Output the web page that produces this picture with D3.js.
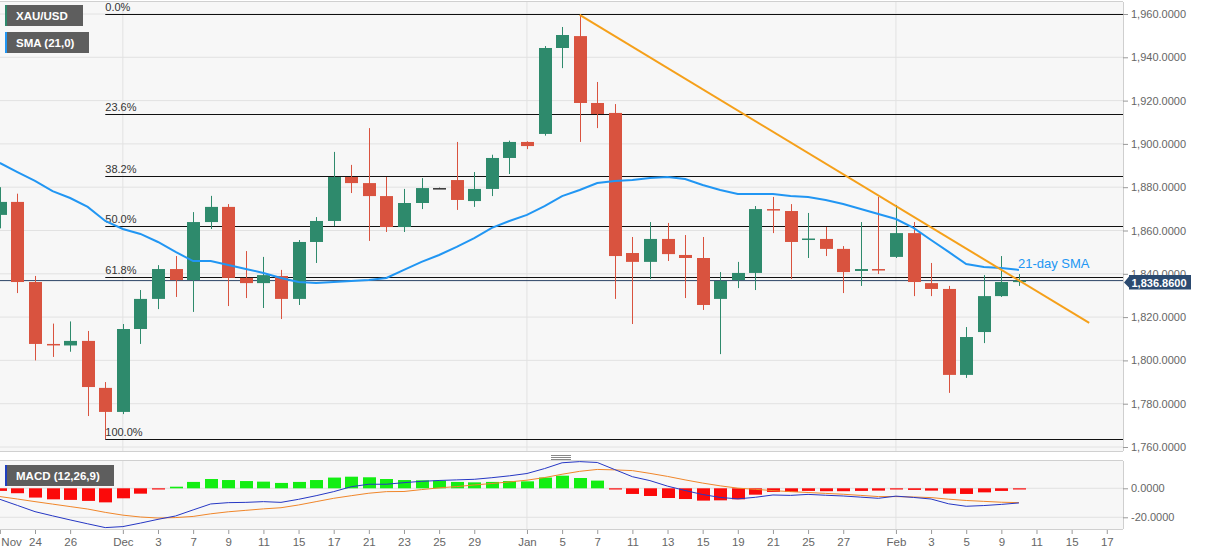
<!DOCTYPE html>
<html><head><meta charset="utf-8">
<script src="https://cdn.jsdelivr.net/npm/d3@7"></script>
<style>
body{margin:0;background:#fff;}
svg{display:block;font-family:"Liberation Sans",Arial,Helvetica,sans-serif;}
</style>
</head><body>
<svg id="chart" width="1207" height="555"></svg>
<script>
// ---------- DATA ----------
const days = ["11-20","11-23","11-24","11-25","11-26","11-27","11-30",
  "12-01","12-02","12-03","12-04","12-07","12-08","12-09","12-10","12-11",
  "12-14","12-15","12-16","12-17","12-18","12-21","12-22","12-23","12-24","12-25",
  "12-28","12-29","12-30","12-31","01-01","01-04","01-05","01-06","01-07","01-08",
  "01-11","01-12","01-13","01-14","01-15","01-18","01-19","01-20","01-21","01-22",
  "01-25","01-26","01-27","01-28","01-29","02-01","02-02","02-03","02-04","02-05",
  "02-08","02-09","02-10"];
const futureDays = ["02-11","02-12","02-15","02-16","02-17","02-18"];

const openP = [1867.2,1873.2,1836.2,1807.6,1806.9,1809.0,1787.3,
  1776.2,1814.5,1828.4,1842.2,1837.1,1863.9,1870.9,1838.1,1835.7,
  1839.0,1828.4,1854.7,1864.4,1884.7,1881.9,1875.9,1861.6,1872.7,1879.6,
  1883.3,1873.6,1879.2,1893.5,1900.9,1904.6,1944.3,1949.8,1918.9,1914.3,
  1849.6,1845.5,1856.1,1848.7,1847.3,1828.4,1837.1,1840.4,1869.9,1869.0,
  1855.8,1856.1,1851.5,1841.3,1842.2,1847.8,1858.8,1835.7,1833.0,1793.3,
  1813.1,1829.7,1836.2];
const highP = [1880.0,1877.0,1839.0,1817.0,1818.0,1813.6,1790.0,
  1816.8,1832.5,1844.0,1848.2,1868.5,1876.0,1872.2,1850.5,1847.8,
  1841.8,1855.6,1866.2,1896.3,1890.3,1907.3,1884.7,1879.2,1884.2,1879.8,
  1900.9,1887.0,1895.0,1901.5,1901.2,1945.2,1954.0,1959.8,1928.6,1918.4,
  1857.0,1863.9,1863.5,1857.9,1857.0,1840.8,1845.5,1871.3,1875.5,1872.2,
  1868.1,1861.6,1852.8,1863.9,1875.5,1871.8,1863.9,1845.0,1834.4,1815.4,
  1839.4,1848.2,1839.9];
const lowP = [1861.0,1831.1,1800.0,1801.6,1804.0,1774.3,1763.7,
  1775.2,1807.6,1823.7,1829.3,1822.4,1860.7,1825.1,1828.8,1824.2,
  1819.1,1825.6,1845.0,1862.1,1877.3,1855.2,1859.3,1859.3,1869.9,1879.4,
  1869.5,1870.9,1875.9,1886.1,1897.6,1903.8,1935.0,1900.9,1907.3,1828.4,
  1816.8,1837.6,1845.9,1828.8,1823.3,1802.9,1833.4,1832.5,1858.8,1837.6,
  1847.3,1848.2,1831.1,1834.4,1839.9,1847.3,1829.7,1829.7,1785.0,1791.9,
  1808.0,1829.3,1834.4];
const closeP = [1873.2,1836.2,1807.6,1807.2,1809.0,1787.7,1776.2,
  1814.5,1828.4,1842.2,1837.1,1863.9,1870.9,1838.1,1835.7,1839.4,
  1828.4,1854.7,1864.4,1884.7,1881.9,1875.9,1861.6,1872.7,1879.6,1879.6,
  1874.1,1879.2,1893.5,1900.9,1899.0,1944.3,1950.3,1918.9,1913.8,1848.2,
  1845.5,1856.1,1849.1,1847.3,1825.6,1836.7,1840.4,1869.9,1869.3,1854.7,
  1856.3,1851.5,1840.8,1842.2,1841.5,1858.8,1836.2,1833.0,1793.3,1810.8,
  1829.7,1836.2,1836.86];

const sma21 = [1891.2,1887.0,1882.9,1878.2,1875.0,1870.9,1864.4,
  1860.7,1858.4,1854.7,1850.1,1845.9,1845.9,1844.1,1842.2,1840.4,
  1838.1,1836.2,1835.7,1836.2,1836.7,1837.1,1838.1,1841.8,1845.5,1848.7,
  1852.4,1856.5,1861.2,1864.4,1867.2,1871.3,1875.9,1878.7,1881.9,1882.9,
  1883.3,1884.2,1884.7,1883.8,1881.0,1878.7,1876.9,1876.9,1876.9,1875.9,
  1875.5,1874.1,1872.2,1869.9,1867.6,1865.3,1861.2,1855.6,1850.1,1844.5,
  1843.1,1842.7,1841.8];

const macdLine = [-7.6,-11.8,-16.1,-19.0,-21.8,-24.5,-27.1,
  -26.4,-24.0,-21.4,-19.1,-14.9,-10.8,-9.9,-9.7,-9.2,
  -9.7,-7.6,-5.1,-2.3,1.1,2.8,2.8,3.9,4.8,5.4,
  5.8,6.2,7.3,8.6,10.2,13.6,17.6,18.4,17.8,12.9,
  8.0,5.3,1.5,-1.5,-4.3,-6.3,-7.3,-6.2,-4.6,-4.9,
  -4.2,-4.8,-5.3,-6.1,-6.9,-5.4,-6.3,-7.4,-10.7,-12.4,
  -11.9,-11.1,-10.1];
const signalLine = [-5.7,-7.4,-9.2,-10.9,-12.6,-14.3,-16.6,
  -18.5,-19.8,-20.5,-20.2,-19.4,-17.6,-16.2,-15.2,-14.2,
  -13.4,-11.5,-9.2,-6.9,-5.1,-3.4,-2.3,-2.2,-0.9,0.3,
  1.2,2.3,3.3,4.4,5.6,7.4,9.7,11.7,13.0,12.7,
  12.2,10.3,8.2,5.8,3.6,1.7,0.1,-0.7,-1.6,-2.3,
  -2.9,-3.5,-4.1,-4.9,-5.7,-5.7,-6.0,-6.4,-7.5,-8.4,
  -9.0,-9.6,-9.9];
const histogram = [-1.8,-3.4,-6.4,-7.6,-8.0,-8.7,-9.7,
  -6.9,-3.7,-0.7,1.1,4.4,6.4,5.7,5.0,4.6,
  3.7,4.4,5.7,7.4,8.0,7.6,6.4,5.7,5.5,5.3,
  4.4,4.1,4.4,5.0,4.8,7.4,8.7,7.1,5.3,-0.4,
  -3.9,-5.3,-6.7,-7.4,-8.5,-8.3,-7.6,-4.4,-2.5,-2.5,
  -1.8,-2.0,-2.0,-1.8,-1.6,-0.7,-1.1,-1.6,-3.7,-3.9,
  -2.8,-1.8,-0.5];

const priceTicks = [1760,1780,1800,1820,1840,1860,1880,1900,1920,1940,1960];
const macdTicks = [0,-20];
const tickDays = ["11-20","11-24","11-26","12-01","12-03","12-07","12-09","12-11","12-15","12-17",
  "12-21","12-23","12-25","12-29","01-01","01-05","01-07","01-11","01-13","01-15","01-19",
  "01-21","01-25","01-27","02-01","02-03","02-05","02-09","02-11","02-15","02-17"];
const tickLabels = ["Nov","24","26","Dec","3","7","9","11","15","17",
  "21","23","25","29","Jan","5","7","11","13","15","19",
  "21","25","27","Feb","3","5","9","11","15","17"];
const monthStarts = ["12-01","01-01","02-01"];

const fibLevels = [0, 23.6, 38.2, 50, 61.8, 100];
const fibHigh = 1960.0, fibLow = 1763.7, fibStartDay = "11-30";
const trendDays = ["01-06","02-16"];
const trendValues = [1959.6, 1817.3];
const lastPrice = 1836.86;

// ---------- LAYOUT ----------
const W = 1207, H = 555;
const plotRight = 1123;
const mainTop = 2, mainBottom = 451;
const macdTop = 461, macdBottom = 529;
const green = "#2e8a6c", red = "#d9533f";

const svg = d3.select("#chart");
const allDays = days.concat(futureDays);
const x = d3.scalePoint().domain(allDays).range([-0.14, -0.14 + 17.57*(allDays.length-1)]);
const y = d3.scaleLinear().domain([1760,1960]).range([447,14]);
const ym = d3.scaleLinear().domain([-20,0]).range([517.3,488.3]);

const candles = days.map((d,i)=>({d, o:openP[i], h:highP[i], l:lowP[i], c:closeP[i],
  sma:sma21[i], macd:macdLine[i], sig:signalLine[i], hist:histogram[i]}));

// clip paths
const defs = svg.append("defs");
defs.append("clipPath").attr("id","clipMain").append("rect")
  .attr("x",0).attr("y",mainTop).attr("width",plotRight).attr("height",mainBottom-mainTop);
defs.append("clipPath").attr("id","clipMacd").append("rect")
  .attr("x",0).attr("y",macdTop).attr("width",plotRight).attr("height",macdBottom-macdTop);

// backgrounds
svg.append("rect").attr("x",0).attr("y",mainTop).attr("width",plotRight).attr("height",mainBottom-mainTop).attr("fill","#f7f7f7");
svg.append("rect").attr("x",0).attr("y",macdTop).attr("width",plotRight).attr("height",macdBottom-macdTop).attr("fill","#f7f7f7");

// main grid
const gMain = svg.append("g").attr("clip-path","url(#clipMain)");
gMain.selectAll(".hg").data(priceTicks).join("line")
  .attr("x1",0).attr("x2",plotRight).attr("y1",d=>y(d)).attr("y2",d=>y(d))
  .attr("stroke","#e2e2e2").attr("stroke-width",1);
gMain.selectAll(".vg").data(monthStarts).join("line")
  .attr("x1",d=>x(d)).attr("x2",d=>x(d)).attr("y1",mainTop).attr("y2",mainBottom)
  .attr("stroke","#e2e2e2");

// fib levels
const fib = fibLevels.map(p=>({p, v: fibHigh - p/100*(fibHigh-fibLow)}));
gMain.selectAll(".fib").data(fib).join("line")
  .attr("x1",x(fibStartDay)).attr("x2",plotRight)
  .attr("y1",d=>Math.round(y(d.v))+0.5).attr("y2",d=>Math.round(y(d.v))+0.5)
  .attr("stroke","#111").attr("stroke-width",1.2);
gMain.selectAll(".fibt").data(fib).join("text")
  .attr("x",x(fibStartDay)).attr("y",d=>y(d.v)-3)
  .attr("font-size",11).attr("fill","#333").text(d=>d.p.toFixed(1)+"%");

// last price line
gMain.append("line").attr("x1",0).attr("x2",plotRight)
  .attr("y1",y(lastPrice)).attr("y2",y(lastPrice)).attr("stroke","#2c4466").attr("stroke-width",1);

// candles
const bw = 13;
const cg = gMain.append("g");
cg.selectAll(".wick").data(candles).join("line")
  .attr("x1",d=>Math.round(x(d.d))+0.5).attr("x2",d=>Math.round(x(d.d))+0.5)
  .attr("y1",d=>y(d.h)).attr("y2",d=>y(d.l))
  .attr("stroke",d=>d.c>d.o?green:(d.c<d.o?red:"#333")).attr("stroke-width",1);
cg.selectAll(".body").data(candles).join("rect")
  .attr("x",d=>Math.round(x(d.d))-6).attr("width",bw)
  .attr("y",d=>y(Math.max(d.o,d.c)))
  .attr("height",d=>Math.max(1.5, Math.abs(y(d.o)-y(d.c))))
  .attr("fill",d=>d.c>d.o?green:(d.c<d.o?red:"#333"));

// SMA
gMain.append("path").datum(candles)
  .attr("d",d3.line().x(d=>x(d.d)).y(d=>y(d.sma)))
  .attr("fill","none").attr("stroke","#2196f3").attr("stroke-width",2);

// trend line
gMain.append("line")
  .attr("x1",x(trendDays[0])).attr("y1",y(trendValues[0]))
  .attr("x2",x(trendDays[1])).attr("y2",y(trendValues[1]))
  .attr("stroke","#f5a01a").attr("stroke-width",2);

gMain.append("text").attr("x",1018).attr("y",268).attr("font-size",13)
  .attr("fill","#2196f3").text("21-day SMA");

// borders main
svg.append("line").attr("x1",0).attr("x2",plotRight).attr("y1",mainTop-0.5).attr("y2",mainTop-0.5).attr("stroke","#d0d0d0");
svg.append("line").attr("x1",0).attr("x2",plotRight).attr("y1",mainBottom+0.5).attr("y2",mainBottom+0.5).attr("stroke","#d0d0d0");
svg.append("line").attr("x1",plotRight+0.5).attr("x2",plotRight+0.5).attr("y1",mainTop).attr("y2",mainBottom).attr("stroke","#cfcfcf");

// price axis
const yAxis = svg.append("g").attr("transform",`translate(${plotRight},0)`)
  .call(d3.axisRight(y).tickValues(priceTicks).tickSize(5).tickPadding(3).tickFormat(d3.format(",.4f")));
yAxis.select(".domain").remove();
yAxis.selectAll("line").attr("stroke","#999");
yAxis.selectAll("text").attr("font-size",11).attr("fill","#666").attr("font-family","Liberation Sans, Arial, sans-serif");

// last price label
const ly = y(lastPrice);
const lp = svg.append("g");
lp.append("path").attr("d",`M${plotRight+1},${ly+2} L${plotRight+6},${ly-4} L${plotRight+6},${ly-5.5} L1191,${ly-5.5} L1191,${ly+9} L${plotRight+6},${ly+9} L${plotRight+6},${ly+7} Z`)
  .attr("fill","#2b4a70");
lp.append("text").attr("x",1159).attr("y",ly+6.5).attr("text-anchor","middle")
  .attr("font-size",11).attr("font-weight","bold").attr("fill","#fff").text(d3.format(",.4f")(lastPrice));

// legends
function legend(x0,y0,w,h,stripe,label){
  const g = svg.append("g");
  g.append("rect").attr("x",x0).attr("y",y0).attr("width",w).attr("height",h).attr("fill","#5e5e5e");
  g.append("rect").attr("x",x0).attr("y",y0).attr("width",2).attr("height",h).attr("fill",stripe);
  g.append("text").attr("x",x0+11).attr("y",y0+h/2+4).attr("font-size",11.5).attr("font-weight","bold")
    .attr("fill","#fff").text(label);
}
legend(5,5,78,21,"#2e8a6c","XAU/USD");
legend(5,32,84,21,"#2196f3","SMA (21,0)");

// handle between panels
svg.selectAll(".hdl").data([455,457,459]).join("line")
  .attr("x1",551).attr("x2",571).attr("y1",d=>d+0.5).attr("y2",d=>d+0.5).attr("stroke","#888");

// MACD panel
const gM = svg.append("g").attr("clip-path","url(#clipMacd)");
gM.selectAll(".mg").data(macdTicks).join("line")
  .attr("x1",0).attr("x2",plotRight).attr("y1",d=>ym(d)).attr("y2",d=>ym(d)).attr("stroke","#e2e2e2");
gM.selectAll(".mvg").data(monthStarts).join("line")
  .attr("x1",d=>x(d)).attr("x2",d=>x(d)).attr("y1",macdTop).attr("y2",macdBottom).attr("stroke","#e2e2e2");
gM.selectAll(".hist").data(candles).join("rect")
  .attr("x",d=>Math.round(x(d.d))-6).attr("width",bw)
  .attr("y",d=>d.hist>=0?ym(d.hist):ym(0))
  .attr("height",d=>Math.max(1.2, Math.abs(ym(d.hist)-ym(0))))
  .attr("fill",d=>d.hist>=0?"#13ee13":"#fb0a0a");
gM.append("path").datum(candles)
  .attr("d",d3.line().x(d=>x(d.d)).y(d=>ym(d.sig)))
  .attr("fill","none").attr("stroke","#f0862a").attr("stroke-width",1);
gM.append("path").datum(candles)
  .attr("d",d3.line().x(d=>x(d.d)).y(d=>ym(d.macd)))
  .attr("fill","none").attr("stroke","#2637c4").attr("stroke-width",1);

svg.append("line").attr("x1",0).attr("x2",plotRight).attr("y1",macdTop-0.5).attr("y2",macdTop-0.5).attr("stroke","#d0d0d0");
svg.append("line").attr("x1",0).attr("x2",plotRight).attr("y1",macdBottom+0.5).attr("y2",macdBottom+0.5).attr("stroke","#d0d0d0");
svg.append("line").attr("x1",plotRight+0.5).attr("x2",plotRight+0.5).attr("y1",macdTop).attr("y2",macdBottom).attr("stroke","#cfcfcf");

const mAxis = svg.append("g").attr("transform",`translate(${plotRight},0)`)
  .call(d3.axisRight(ym).tickValues(macdTicks).tickSize(5).tickPadding(3).tickFormat(d3.format(".4f")));
mAxis.select(".domain").remove();
mAxis.selectAll("line").attr("stroke","#999");
mAxis.selectAll("text").attr("font-size",11).attr("fill","#666").attr("font-family","Liberation Sans, Arial, sans-serif")
  .text(d=> d===0 ? "0.0000" : d3.format(".4f")(d).replace("−","-"));

legend(5,465,109,21,"#1f3fc0","MACD (12,26,9)");

// x axis
const labelMap = new Map(tickDays.map((d,i)=>[d,tickLabels[i]]));
const xAxis = svg.append("g").attr("transform",`translate(0,${macdBottom+1})`)
  .call(d3.axisBottom(x).tickValues(tickDays).tickSize(4).tickPadding(4).tickFormat(d=>labelMap.get(d)));
xAxis.select(".domain").remove();
xAxis.selectAll("line").attr("stroke","#999");
xAxis.selectAll("text").attr("font-size",11.5).attr("fill","#666").attr("font-family","Liberation Sans, Arial, sans-serif");
xAxis.selectAll(".tick").filter(d=>d==="11-20").select("text").attr("text-anchor","start").attr("x",1);
</script>
</body></html>
